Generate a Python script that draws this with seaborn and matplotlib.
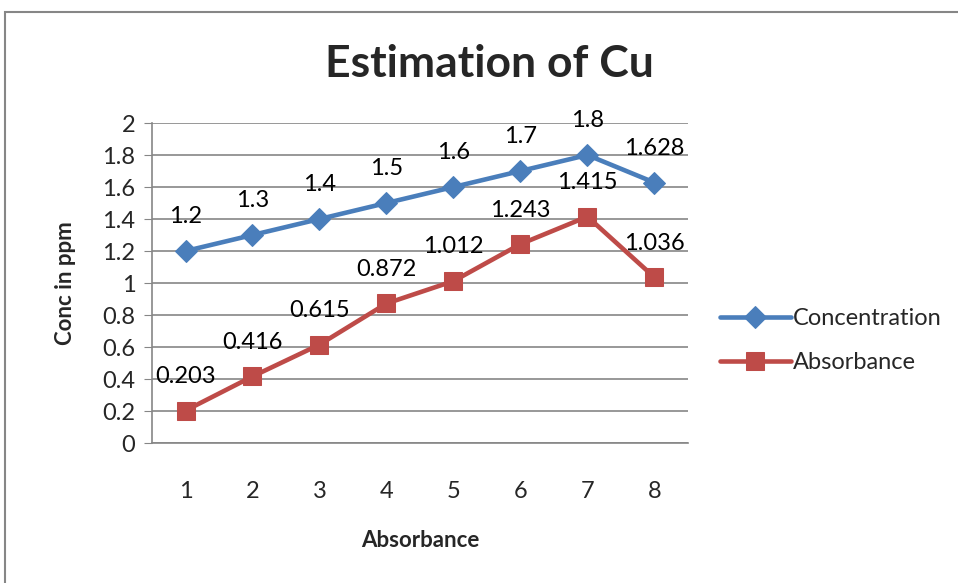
import matplotlib
matplotlib.use("Agg")
import matplotlib.pyplot as plt
import seaborn as sns
import pandas as pd
from matplotlib.patches import Rectangle

samples = [1, 2, 3, 4, 5, 6, 7, 8]
concentration = [1.2, 1.3, 1.4, 1.5, 1.6, 1.7, 1.8, 1.628]
absorbance = [0.203, 0.416, 0.615, 0.872, 1.012, 1.243, 1.415, 1.036]
series_names = ["Concentration", "Absorbance"]
y_ticks = [0, 0.2, 0.4, 0.6, 0.8, 1, 1.2, 1.4, 1.6, 1.8, 2]

df = pd.DataFrame({
    "x": samples * 2,
    "y": concentration + absorbance,
    "series": [series_names[0]] * len(samples) + [series_names[1]] * len(samples),
})

sns.set_style("white")
plt.rcParams["font.family"] = ["Lato", "DejaVu Sans"]

colors = {"Concentration": "#4A7EBB", "Absorbance": "#BE4B48"}
markers = {"Concentration": "D", "Absorbance": "s"}
fs = 17

fig = plt.figure(figsize=(9.58, 5.83), dpi=100)
ax = fig.add_axes([0.1587, 0.2401, 0.5593, 0.5489])

for name in series_names:
    sub = df[df["series"] == name]
    sns.lineplot(data=sub, x="x", y="y", color=colors[name], marker=markers[name],
                 markersize=11.5 if name == "Concentration" else 12.5,
                 markeredgecolor=colors[name], linewidth=3.3, label=name, ax=ax)
    for xv, yv in zip(sub["x"], sub["y"]):
        ax.annotate(f"{yv:g}", (xv, yv), xytext=(0, 17), textcoords="offset points",
                    ha="center", va="bottom", fontsize=fs, color="black")

ax.set_xlim(0.5, 8.5)
ax.set_ylim(0, 2)
ax.set_yticks(y_ticks)
ax.set_yticklabels([f"{t:g}" for t in y_ticks])
ax.set_xticks(samples)
ax.yaxis.grid(True, color="#868686", linewidth=1.2)
for s in ["top", "right"]:
    ax.spines[s].set_visible(False)
for s in ["left", "bottom"]:
    ax.spines[s].set_color("#868686")
    ax.spines[s].set_linewidth(1.2)
ax.tick_params(axis="y", which="both", left=True, length=6, color="#868686",
               labelsize=fs, pad=6)
ax.tick_params(axis="x", bottom=False, labelsize=fs, pad=24)

ax.set_xlabel("Absorbance", fontsize=16, fontweight="bold", labelpad=20)
ax.set_ylabel("Conc in ppm", fontsize=16, fontweight="bold", labelpad=19)
fig.text(0.511, 0.89, "Estimation of Cu", ha="center", va="center",
         fontsize=32, fontweight="bold")

ax.legend(loc="center left", bbox_to_anchor=(1.02, 0.32), frameon=False,
          fontsize=fs, handlelength=3.0, handletextpad=0.1, labelspacing=0.95)

fig.add_artist(Rectangle((5 / 958, -0.05), 1.1, 1 - 12 / 583 + 0.05,
                         transform=fig.transFigure, fill=False,
                         edgecolor="#868686", linewidth=1.5))

fig.savefig("out.png", dpi=100)
